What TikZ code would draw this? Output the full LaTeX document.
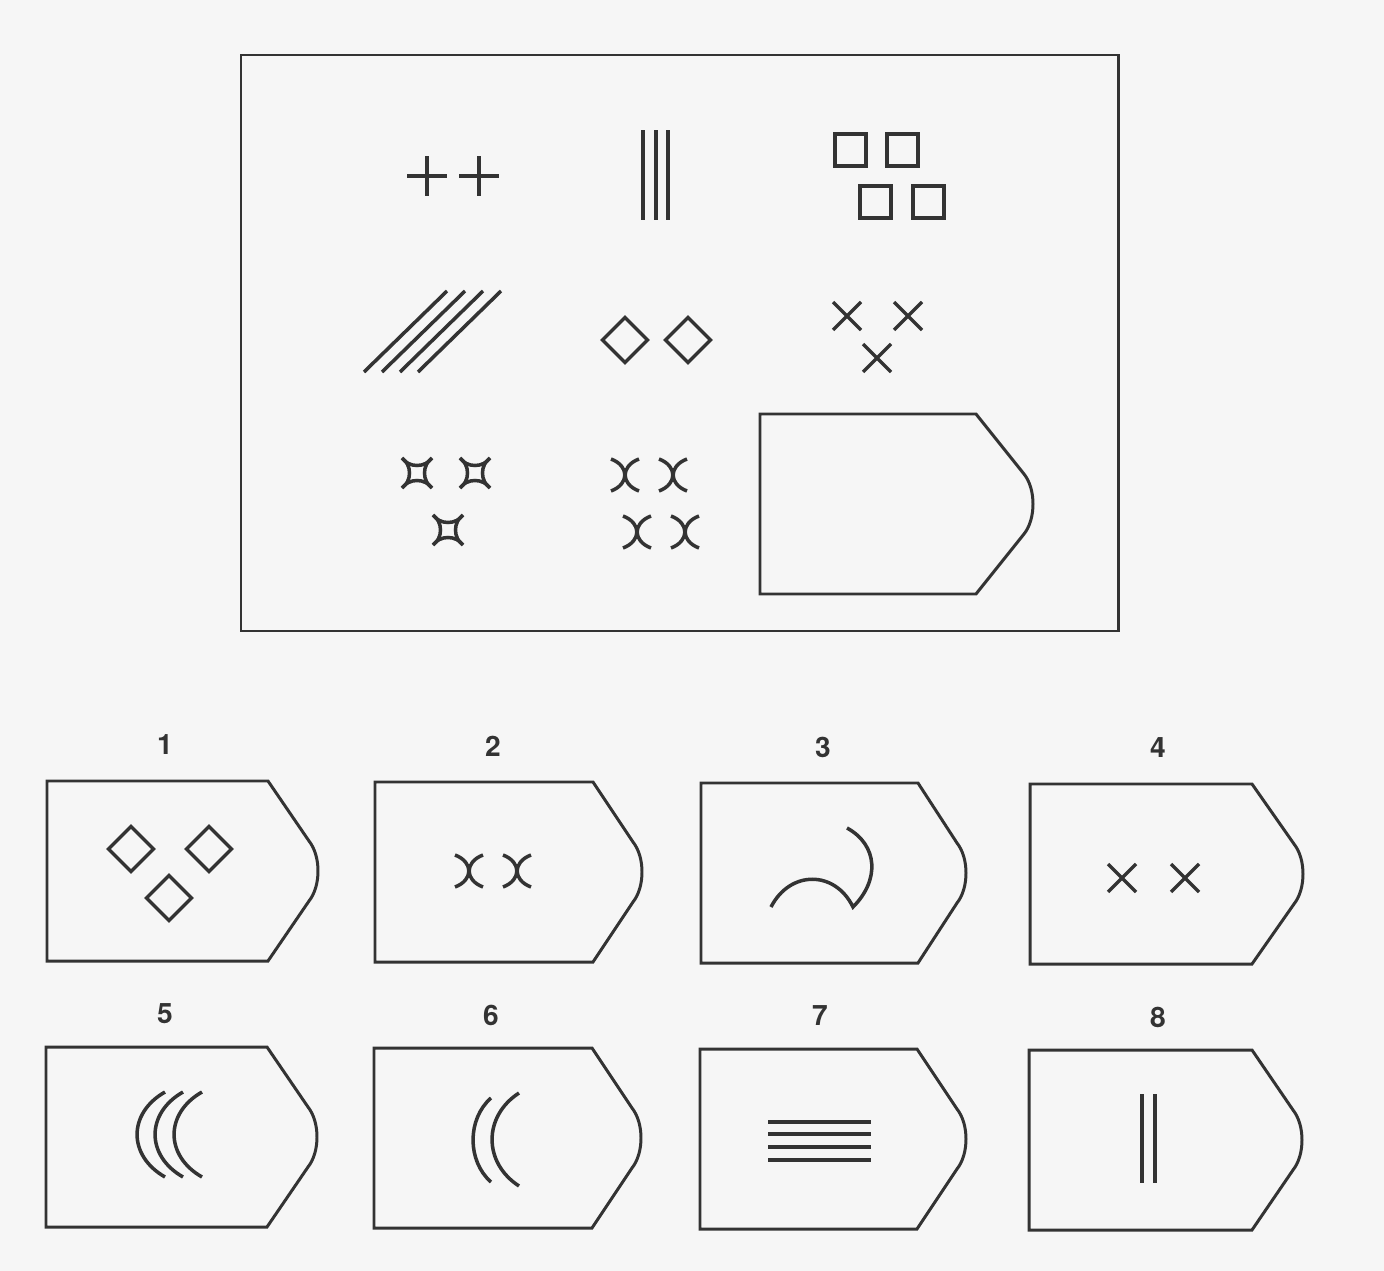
\documentclass[tikz,border=0pt]{standalone}
\usepackage{fontspec}
\setsansfont{TeX Gyre Heros}
\usetikzlibrary{positioning}
\definecolor{inkgray}{RGB}{51, 51, 51}
\definecolor{pagebg}{RGB}{246, 246, 246}
\tikzset{
  shapeline/.style={draw=inkgray, line width=2pt},
  frameline/.style={draw=inkgray, line width=1.7pt},
  optlabel/.style={font=\sffamily\bfseries\fontsize{16}{16}\selectfont, text=inkgray, inner sep=0pt}
}
% badge outline: left x, top y, corner x, tip extension
\newcommand{\badge}[4]{%
  \draw[frameline] (#1,#2) -- (#3,#2) -- ({#3+#4-9},{#2+60})
    .. controls ({#3+#4+3},{#2+75}) and ({#3+#4+3},{#2+105}) .. ({#3+#4-9},{#2+120})
    -- (#3,{#2+180}) -- (#1,{#2+180}) -- cycle;}
\newcommand{\plusmark}[2]{%
  \draw[shapeline] ({#1-20},#2) -- ({#1+20},#2) (#1,{#2-20}) -- (#1,{#2+20});}
\newcommand{\xmark}[3]{%
  \draw[shapeline] ({#1-#3},{#2-#3}) -- ({#1+#3},{#2+#3}) ({#1-#3},{#2+#3}) -- ({#1+#3},{#2-#3});}
\newcommand{\sqbox}[2]{%
  \draw[shapeline] (#1,#2) rectangle ++(31,32);}
\newcommand{\diam}[2]{%
  \draw[shapeline] (#1,{#2-22.5}) -- ({#1+22.5},#2) -- (#1,{#2+22.5}) -- ({#1-22.5},#2) -- cycle;}
\newcommand{\arcpair}[2]{%
  \draw[shapeline] ({#1-14},{#2-16}) .. controls ({#1+4.5},{#2-9}) and ({#1+4.5},{#2+9}) .. ({#1-14},{#2+16})
    ({#1+14},{#2-16}) .. controls ({#1-4.5},{#2-9}) and ({#1-4.5},{#2+9}) .. ({#1+14},{#2+16});}
\newcommand{\cstar}[2]{%
  \draw[shapeline] ({#1-15},{#2-15}) .. controls ({#1-8},{#2-5}) and ({#1+8},{#2-5}) .. ({#1+15},{#2-15})
    .. controls ({#1+5},{#2-8}) and ({#1+5},{#2+8}) .. ({#1+15},{#2+15})
    .. controls ({#1+8},{#2+5}) and ({#1-8},{#2+5}) .. ({#1-15},{#2+15})
    .. controls ({#1-5},{#2+8}) and ({#1-5},{#2-8}) .. cycle;}
% left opening arc: end x, top y, bottom y, depth
\newcommand{\leftarc}[4]{%
  \draw[shapeline] (#1,#2) .. controls ({#1-1.33*#4},{#2+0.25*(#3-#2)}) and ({#1-1.33*#4},{#3-0.25*(#3-#2)}) .. (#1,#3);}

\begin{document}
\begin{tikzpicture}[x=0.02cm, y=-0.02cm]

  % Page
  \fill[pagebg] (0,0) rectangle (1384,1271);
  \useasboundingbox (0,0) rectangle (1384,1271);

  % Matrix frame
  \draw[frameline] (241,55) rectangle (1118,631);

  % Row 1
  \plusmark{427}{176}
  \plusmark{479}{176}
  \foreach \lx in {643,656,668} {
    \draw[shapeline] (\lx,130) -- (\lx,220);
  }
  \sqbox{835}{134}
  \sqbox{887}{134}
  \sqbox{860}{186}
  \sqbox{913}{186}

  % Row 2
  \foreach \dx in {0,18,36,54} {
    \draw[shapeline] ({364+\dx},372) -- ({447+\dx},291);
  }
  \diam{625}{340}
  \diam{688}{340}
  \xmark{847}{316}{14}
  \xmark{908}{316}{14}
  \xmark{877}{358}{14}

  % Row 3
  \cstar{417}{473}
  \cstar{475}{473}
  \cstar{448}{530}
  \arcpair{625}{475}
  \arcpair{673}{475}
  \arcpair{637}{532}
  \arcpair{685}{532}
  \badge{760}{414}{976}{57}

  % Options, top row
  \node[optlabel] (lbl1) at (165,745) {1};
  \badge{47}{781}{268}{50}
  \diam{131}{849}
  \diam{209}{849}
  \diam{169}{898}

  \node[optlabel] (lbl2) at (493,746) {2};
  \badge{375}{782}{593}{49}
  \arcpair{469}{871}
  \arcpair{517}{871}

  \node[optlabel] (lbl3) at (823,747) {3};
  \badge{701}{783}{918}{48}
  \draw[shapeline] (771,907) .. controls (790,870) and (835,870) .. (853,907)
    .. controls (880,880) and (878,845) .. (847,828);

  \node[optlabel] (lbl4) at (1158,748) {4};
  \badge{1030}{784}{1252}{51}
  \xmark{1122}{878}{14}
  \xmark{1185}{878}{14}

  % Options, bottom row
  \node[optlabel] (lbl5) at (165,1014) {5};
  \badge{46}{1047}{267}{50}
  \leftarc{165}{1092}{1177}{28}
  \leftarc{183}{1092}{1177}{28}
  \leftarc{202}{1092}{1177}{28}

  \node[optlabel] (lbl6) at (491,1015) {6};
  \badge{374}{1048}{592}{49}
  \leftarc{491}{1098}{1182}{18}
  \leftarc{519}{1093}{1186}{27}

  \node[optlabel] (lbl7) at (820,1016) {7};
  \badge{700}{1049}{917}{49}
  \foreach \ly in {1122,1134,1147,1160} {
    \draw[shapeline] (768,\ly) -- (871,\ly);
  }

  \node[optlabel] (lbl8) at (1158,1017) {8};
  \badge{1029}{1050}{1252}{50}
  \draw[shapeline] (1142,1094) -- (1142,1183);
  \draw[shapeline] (1155,1094) -- (1155,1183);

\end{tikzpicture}
\end{document}
